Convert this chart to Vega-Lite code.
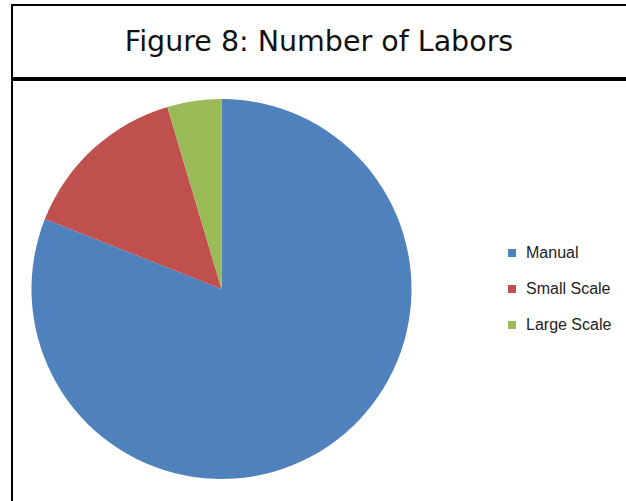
{
  "$schema": "https://vega.github.io/schema/vega-lite/v6.json",
  "padding": {"left": 11, "top": 4, "right": 0, "bottom": 0},
  "spacing": 0,
  "background": "#ffffff",
  "config": {
    "view": {"stroke": "#000000", "strokeWidth": 2},
    "concat": {"spacing": 0}
  },
  "data": {
    "values": [
      {"type": "Manual", "labors": 81.0},
      {"type": "Small Scale", "labors": 14.4},
      {"type": "Large Scale", "labors": 4.6}
    ]
  },
  "vconcat": [
    {
      "width": 630,
      "height": 73,
      "view": {"stroke": "#000000", "strokeWidth": 2},
      "data": {"values": [{"title": "Figure 8: Number of Labors"}]},
      "mark": {"type": "text", "font": "DejaVu Sans", "fontSize": 28.5, "color": "#111111", "dx": -8, "baseline": "middle"},
      "encoding": {"text": {"field": "title"}}
    },
    {
      "width": 630,
      "height": 430,
      "view": {"stroke": "#000000", "strokeWidth": 2},
      "mark": {"type": "arc", "outerRadius": 190, "x": 209.5, "y": 209},
      "encoding": {
        "theta": {"field": "labors", "type": "quantitative", "stack": true},
        "order": {"field": "labors", "sort": "descending"},
        "color": {
          "field": "type",
          "type": "nominal",
          "sort": ["Manual", "Small Scale", "Large Scale"],
          "scale": {"domain": ["Manual", "Small Scale", "Large Scale"], "range": ["#4F81BD", "#C0504D", "#9BBB59"]},
          "legend": {
            "title": null,
            "orient": "none",
            "legendX": 492,
            "legendY": 240,
            "symbolType": "square",
            "symbolSize": 64,
            "symbolStrokeWidth": 0,
            "labelFont": "Liberation Sans",
            "labelFontSize": 16,
            "labelColor": "#222222",
            "labelOffset": 6,
            "rowPadding": 20,
            "padding": 0
          }
        }
      }
    }
  ]
}
